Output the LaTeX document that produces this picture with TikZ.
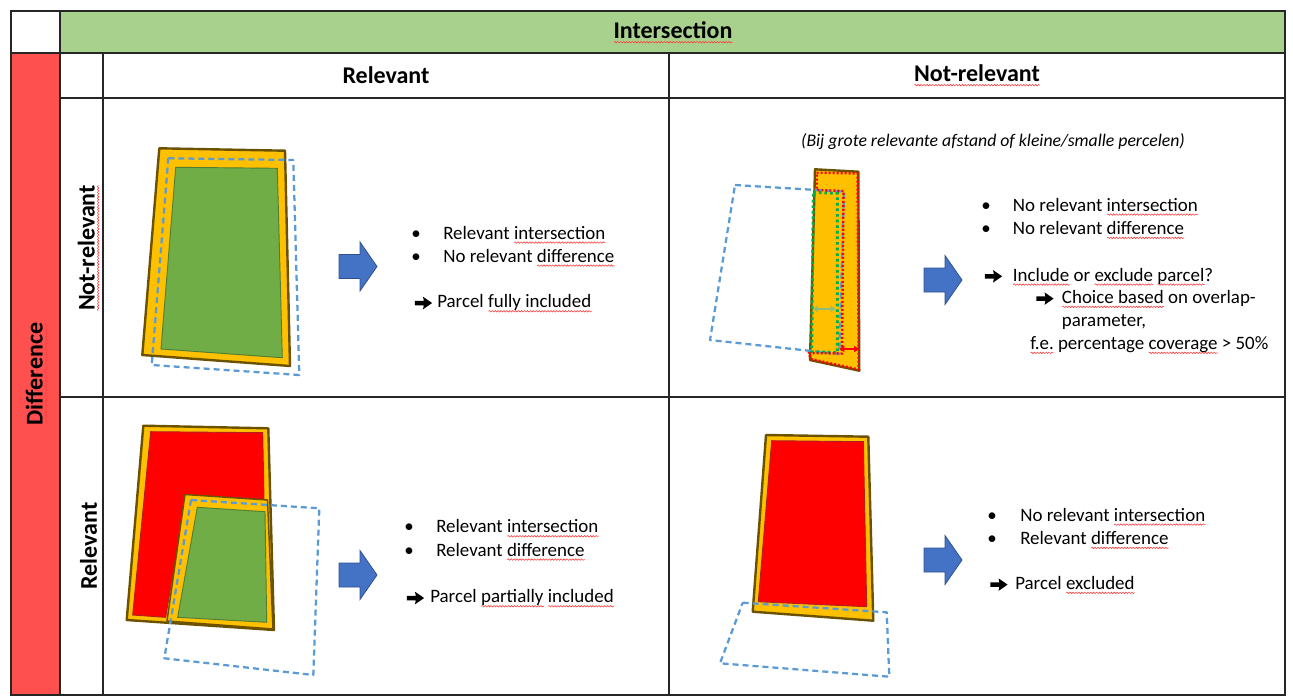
\documentclass[tikz,border=0pt]{standalone}
\usepackage{fontspec}
\setmainfont{Carlito}
\usetikzlibrary{arrows.meta,decorations.pathmorphing}
\definecolor{hdrgreen}{HTML}{A9D18E}
\definecolor{hdrred}{HTML}{FF5050}
\definecolor{porange}{HTML}{FFC000}
\definecolor{pbrown}{HTML}{6B5200}
\definecolor{pgreen}{HTML}{70AD47}
\definecolor{pgreenline}{HTML}{507E32}
\definecolor{pblue}{HTML}{5B9BD5}
\definecolor{pred}{HTML}{FF0000}
\definecolor{predline}{HTML}{B02020}
\definecolor{aroblue}{HTML}{4472C4}
\definecolor{aroline}{HTML}{2F528F}
\definecolor{dotgreen}{HTML}{00B050}
\definecolor{arrgreen}{HTML}{8CC07A}
\newsavebox\sqbox
\newcommand\sq[1]{\sbox\sqbox{#1}\rlap{\tikz[baseline=0pt]\draw[red!75,line width=0.45pt,decorate,decoration={snake,amplitude=0.55pt,segment length=2.2pt}] (0pt,-2.6pt) -- (\the\wd\sqbox,-2.6pt);}\usebox\sqbox}
\newcommand\arr{\tikz[baseline=0pt]\fill[black] (0pt,1.9pt) -- (6.8pt,1.9pt) -- (6.2pt,-1.1pt) -- (13pt,3.6pt) -- (6.2pt,8.3pt) -- (6.8pt,5.3pt) -- (0pt,5.3pt) -- cycle;}
\tikzset{
  grid/.style={draw=black!85,line width=1pt},
  hd/.style={font=\fontsize{18}{21}\selectfont\bfseries,inner sep=0pt},
  txt/.style={font=\fontsize{14.2}{16}\selectfont,anchor=mid west,inner sep=0pt,yshift=-2.2pt},
  bul/.style={font=\fontsize{14.2}{16}\selectfont,anchor=mid,inner sep=0pt,yshift=-2.2pt},
  parcel/.style={fill=porange,draw=pbrown,line width=1.8pt,line join=round},
  inpar/.style={fill=porange,draw=pbrown,line width=1.1pt,line join=round},
  grn/.style={fill=pgreen,draw=pgreenline,line width=0.7pt},
  rd/.style={fill=pred,draw=predline,line width=0.7pt},
  bluedash/.style={draw=pblue,line width=1.7pt,dash pattern=on 4.5pt off 3pt,line join=round},
  reddot/.style={draw=pred,line width=1.8pt,dash pattern=on 1.5pt off 1.5pt},
  greendot/.style={draw=dotgreen,line width=2.2pt,dash pattern=on 2pt off 2.2pt},
  arrowshape/.style={fill=aroblue,draw=aroline,line width=0.6pt,line join=miter},
  barrow/.pic={\draw[arrowshape] (0,-12) -- (21,-12) -- (21,-24.5) -- (38,0) -- (21,24.5) -- (21,12) -- (0,12) -- cycle;}
}
\begin{document}
\begin{tikzpicture}[x=0.75pt,y=-0.75pt]
\useasboundingbox (0,0) rectangle (1293,700);
% ---- table ----
\fill[hdrgreen] (60,11) rectangle (1285,53);
\fill[hdrred] (11,53) rectangle (60,695);
\draw[grid] (11,11) rectangle (1285,695);
\draw[grid] (11,53) -- (1285,53);
\draw[grid] (60,11) -- (60,695);
\draw[grid] (60,98) -- (1285,98);
\draw[grid] (103,53) -- (103,695);
\draw[grid] (669,53) -- (669,695);
\draw[grid] (60,397) -- (1285,397);
% ---- headers ----
\node[hd] (hInter) at (673,32.5) {\sq{Intersection}};
\node[hd] (hRel) at (386,75.5) {Relevant};
\node[hd] (hNot) at (977,75.5) {\sq{Not-relevant}};
\node[hd,rotate=90] (hDiff) at (36.5,374) {\sq{Difference}};
\node[hd,rotate=90] (rNot) at (88.5,248) {\sq{Not-relevant}};
\node[hd,rotate=90] (rRel) at (88.5,546) {Relevant};
% ---- cell top-left ----
\draw[parcel] (159.3,148.3) -- (285,150.7) -- (290,366) -- (142.3,355) -- cycle;
\draw[grn] (175.7,167.3) -- (277.3,168.3) -- (282.3,357.7) -- (161,349) -- cycle;
\draw[bluedash] (168.3,158.3) -- (293.3,160) -- (299.3,375) -- (151.7,365) -- cycle;
\pic at (339,266.5) {barrow};
\node[bul] (tlb1) at (416,233) {•};
\node[bul] (tlb2) at (416,256) {•};
\node[txt] (tlt1) at (443,233) {Relevant \sq{intersection}};
\node[txt] (tlt2) at (443,256) {No relevant \sq{difference}};
\node[txt] (tla3) at (414.5,301.7) {\arr};
\node[txt] (tlt3) at (437,301.7) {Parcel \sq{fully included}};
% ---- cell top-right ----
\node[font=\fontsize{13.3}{16}\selectfont\itshape,inner sep=0pt,yshift=-2pt] (trnote) at (993,139) {(Bij grote relevante afstand of kleine/smalle percelen)};
\draw[parcel] (815,169.3) -- (858.3,171.7) -- (859.3,370.7) -- (810,360) -- cycle;
\draw[bluedash] (735,185) -- (844,191.7) -- (839.3,354) -- (710,340) -- cycle;
\draw[greendot] (813.3,192.3) -- (837.3,193.3) -- (837.3,352.7) -- (811.7,351.7) -- cycle;
\draw[reddot] (816.7,172.7) -- (857.5,173.5) -- (858.7,369.5) -- (810.5,359) -- (809,353) -- (842,353.5) -- (843.5,191) -- (816.7,190) -- cycle;
\draw[arrgreen,line width=1.3pt,{Triangle[length=4pt,width=4.5pt]}-{Triangle[length=4pt,width=4.5pt]}] (812.5,309) -- (836,309);
\draw[pred,line width=1.5pt,{Triangle[length=4pt,width=4.5pt]}-{Triangle[length=4pt,width=4.5pt]}] (839,349) -- (859.5,349);
\pic at (924,280) {barrow};
\node[bul] (trb1) at (986,205) {•};
\node[bul] (trb2) at (986,228.3) {•};
\node[txt] (trt1) at (1012.7,205) {No relevant \sq{intersection}};
\node[txt] (trt2) at (1012.7,228.3) {No relevant \sq{difference}};
\node[txt] (tra3) at (984.5,275) {\arr};
\node[txt] (trt3) at (1012.7,275) {\sq{Include} or \sq{exclude} \sq{parcel}?};
\node[txt] (tra4) at (1036,297.3) {\arr};
\node[txt] (trt4) at (1061.7,297.3) {\sq{Choice based} on overlap-};
\node[txt] (trt5) at (1061.7,320) {parameter,};
\node[txt] (trt6) at (1030,343.3) {\sq{f.e.} percentage \sq{coverage} > 50\%};
% ---- cell bottom-left ----
\draw[parcel] (143.3,425.7) -- (268.3,428.3) -- (274,630) -- (126.7,620) -- cycle;
\draw[rd] (150.7,431.7) -- (262.7,432.7) -- (264,499.3) -- (185.7,495) -- (165.7,617.3) -- (132.7,615) -- cycle;
\draw[inpar] (185,494.5) -- (267.5,500) -- (273,629) -- (167,621) -- cycle;
\draw[grn] (197.3,507.3) -- (265,511.7) -- (266.7,622.3) -- (177.7,617.3) -- cycle;
\draw[bluedash] (191,500) -- (319.3,508.3) -- (313.3,675) -- (164.3,658.3) -- cycle;
\pic at (339,575) {barrow};
\node[bul] (blb1) at (409,526.7) {•};
\node[bul] (blb2) at (409,550) {•};
\node[txt] (blt1) at (436,526.7) {Relevant \sq{intersection}};
\node[txt] (blt2) at (436,550) {Relevant \sq{difference}};
\node[txt] (bla3) at (406.5,596.7) {\arr};
\node[txt] (blt3) at (430,596.7) {Parcel \sq{partially} \sq{included}};
% ---- cell bottom-right ----
\draw[parcel] (766,435) -- (868.3,436.7) -- (873.3,620.7) -- (752.7,611.7) -- cycle;
\draw[rd] (771.7,440.7) -- (863.3,441.7) -- (866.7,606.7) -- (758.3,601.7) -- cycle;
\draw[bluedash] (742.7,602.7) -- (886.7,612.3) -- (889.3,676.7) -- (720,663.3) -- cycle;
\pic at (924,560) {barrow};
\node[bul] (brb1) at (992,515) {•};
\node[bul] (brb2) at (992,538.3) {•};
\node[txt] (brt1) at (1020,515) {No relevant \sq{intersection}};
\node[txt] (brt2) at (1020,538.3) {Relevant \sq{difference}};
\node[txt] (bra3) at (990,583.3) {\arr};
\node[txt] (brt3) at (1015,583.3) {Parcel \sq{excluded}};
\end{tikzpicture}
\end{document}
